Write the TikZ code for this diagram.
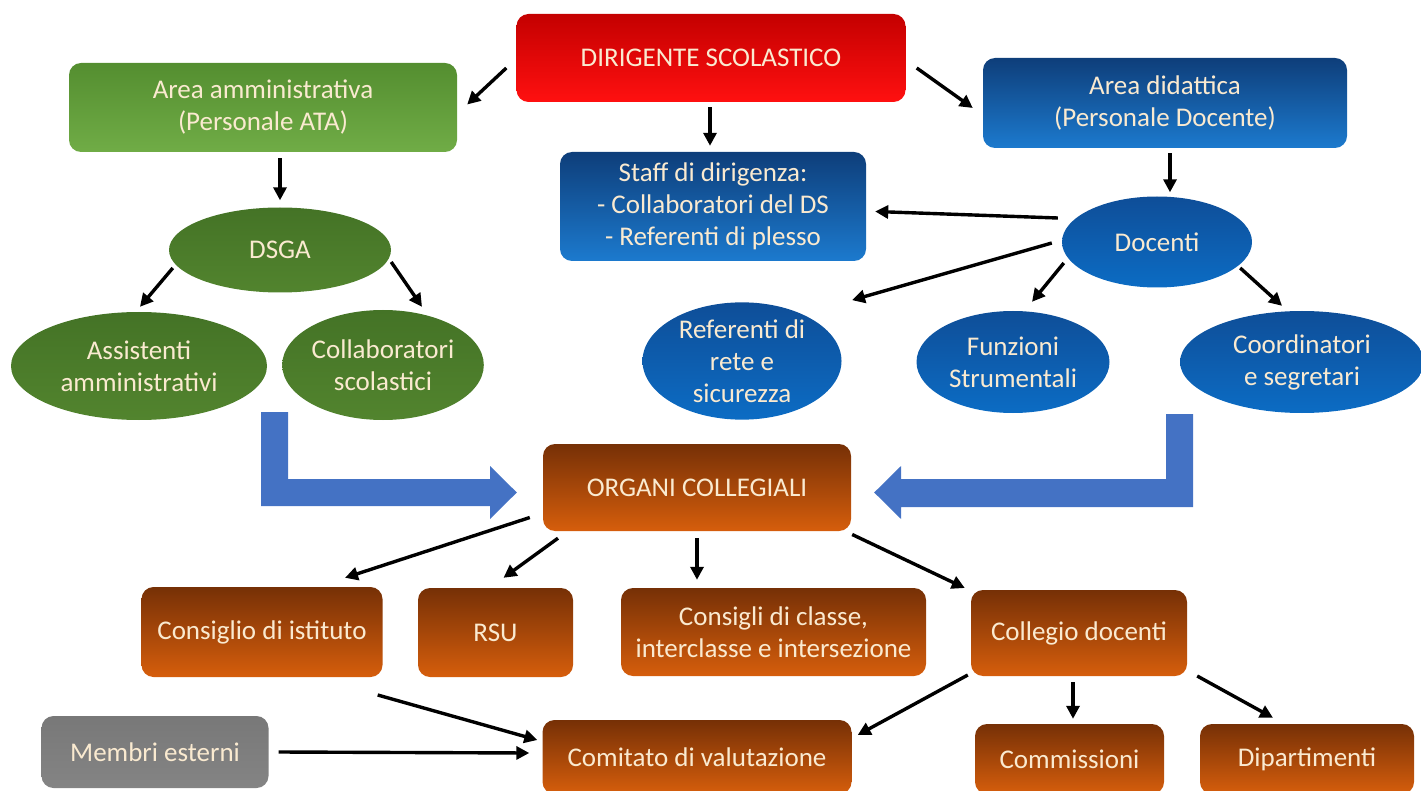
\documentclass[tikz,border=0pt]{standalone}
\usepackage{fontspec}
\setmainfont{Carlito}
\usetikzlibrary{arrows.meta,shapes.geometric,calc}
\definecolor{txt}{RGB}{250,234,208}
\definecolor{redT}{RGB}{196,0,0}
\definecolor{redB}{RGB}{255,16,16}
\definecolor{grnT}{RGB}{84,142,48}
\definecolor{grnB}{RGB}{112,172,70}
\definecolor{dgrT}{RGB}{68,115,38}
\definecolor{dgrB}{RGB}{82,132,46}
\definecolor{bluT}{RGB}{14,62,122}
\definecolor{bluB}{RGB}{28,122,206}
\definecolor{beT}{RGB}{14,78,152}
\definecolor{beB}{RGB}{12,108,196}
\definecolor{brnT}{RGB}{118,48,6}
\definecolor{brnB}{RGB}{214,94,12}
\definecolor{gryT}{RGB}{120,120,120}
\definecolor{gryB}{RGB}{132,132,132}
\definecolor{bigblue}{RGB}{68,114,196}
\tikzset{
  lbl/.style={text=txt, font=\fontsize{27}{32}\selectfont, align=center, inner sep=0pt},
  rbox/.style={lbl, shape=rectangle, rounded corners=12pt, minimum width=#1},
  ell/.style={lbl, shape=ellipse, minimum width=#1},
  redbox/.style={top color=redT, bottom color=redB},
  grnbox/.style={top color=grnT, bottom color=grnB},
  dgr/.style={top color=dgrT, bottom color=dgrB},
  blubox/.style={top color=bluT, bottom color=bluB},
  blu/.style={top color=beT, bottom color=beB},
  brn/.style={top color=brnT, bottom color=brnB},
  gry/.style={top color=gryT, bottom color=gryB},
  arr/.style={line width=3.4pt, -{Triangle[length=13pt,width=13pt]}},
  bigarrow/.style={fill=bigblue, draw=none}
}
\begin{document}
\begin{tikzpicture}[x=1pt,y=-1pt]
\useasboundingbox (0,0) rectangle (1421,791);
% top level
\node[rbox=389pt, minimum height=88pt, redbox] (ds) at (711,58) {DIRIGENTE SCOLASTICO};
\node[rbox=388pt, minimum height=89pt, grnbox] (aa) at (263,107.5) {Area amministrativa\\(Personale ATA)};
\node[rbox=364pt, minimum height=90pt, blubox] (ad) at (1165,103) {Area didattica\\(Personale Docente)};
\node[rbox=306pt, minimum height=109pt, blubox] (staff) at (713,206.5) {Staff di dirigenza:\\- Collaboratori del DS\\- Referenti di plesso};
% ellipses
\node[ell=190pt, minimum height=91pt, blu] (doc) at (1157,242) {Docenti};
\node[ell=222pt, minimum height=85pt, dgr] (dsga) at (280,250) {DSGA};
\node[ell=256pt, minimum height=108pt, dgr] (ass) at (139,366) {Assistenti\\amministrativi};
\node[ell=190pt, minimum height=110pt, dgr] (col) at (383,365) {Collaboratori\\scolastici};
\node[ell=199pt, minimum height=104pt, blu] (ref) at (742,361) {Referenti di\\rete e\\sicurezza};
\node[ell=193pt, minimum height=102pt, blu] (fun) at (1013,362) {Funzioni\\Strumentali};
\node[ell=244pt, minimum height=102pt, blu] (coo) at (1302,362) {Coordinatori\\e segretari};
% organi
\node[rbox=308pt, minimum height=87pt, brn] (org) at (697,487.5) {ORGANI COLLEGIALI};
\node[rbox=241pt, minimum height=90pt, brn] (cdi) at (262,632) {Consiglio di istituto};
\node[rbox=155pt, minimum height=89pt, brn] (rsu) at (495.5,632.5) {RSU};
\node[rbox=305pt, minimum height=88pt, brn] (ccl) at (773.5,632) {Consigli di classe,\\interclasse e intersezione};
\node[rbox=216pt, minimum height=86pt, brn] (cdo) at (1079,633) {Collegio docenti};
\node[rbox=227pt, minimum height=72pt, gry] (mem) at (155,752) {Membri esterni};
\node[rbox=309pt, minimum height=74pt, brn] (cva) at (697,757) {Comitato di valutazione};
\node[rbox=189pt, minimum height=70pt, brn] (com) at (1069.5,759) {Commissioni};
\node[rbox=214pt, minimum height=70pt, brn] (dip) at (1307,759) {Dipartimenti};
% big arrows
\coordinate (ltip) at ($(org.west)+(-26,5)$);
\coordinate (rtip) at ($(org.east)+(23,5)$);
\fill[bigarrow] (261,412) -- (288,412) -- (288,479) -- (490,479) -- (490,466) -- (ltip) -- (490,519) -- (490,506) -- (261,506) -- cycle;
\fill[bigarrow] (1193,414) -- (1166,414) -- (1166,479) -- (901,479) -- (901,466) -- (rtip) -- (901,519) -- (901,507) -- (1193,507) -- cycle;
% black arrows
\draw[arr] ($(ds.west)+(-10,10)$) -- ($(aa.east)+(10,-3)$);
\draw[arr] ($(ds.east)+(11,10)$) -- ($(ad.west)+(-10,5)$);
\draw[arr] ($(ds.south)+(-1,5)$) -- ($(staff.north)+(-3,-6)$);
\draw[arr] ($(aa.south)+(17,6)$) -- ($(dsga.north)+(0,-7)$);
\draw[arr] ($(dsga.west)+(4,18)$) -- ($(ass.north)+(1,-5)$);
\draw[arr] ($(dsga.east)+(0,12)$) -- ($(col.north)+(39,-3)$);
\draw[arr] ($(ad.south)+(5,5)$) -- ($(doc.north)+(13,-4)$);
\draw[arr] ($(doc.west)+(-4,-24)$) -- ($(staff.east)+(9,5)$);
\draw[arr] ($(doc.west)+(-10,1)$) -- ($(ref.north)+(110,-2)$);
\draw[arr] ($(doc.west)+(2,21)$) -- ($(fun.north)+(19,-9)$);
\draw[arr] ($(doc.east)+(-12,26)$) -- ($(coo.north)+(-20,-5)$);
\draw[arr] ($(org.west)+(-13,30)$) -- ($(cdi.north)+(83,-9)$);
\draw[arr] ($(org.south)+(-139,7)$) -- ($(rsu.north)+(8,-10)$);
\draw[arr] ($(org.south)+(0,7)$) -- ($(ccl.north)+(-76.5,-8)$);
\draw[arr] ($(org.east)+(1,47)$) -- ($(cdo.west)+(-6,-45)$);
\draw[arr] ($(cdi.east)+(-5,63)$) -- ($(cva.west)+(-5,-17)$);
\draw[arr] ($(mem.east)+(10,0)$) -- ($(cva.west)+(-13,-4)$);
\draw[arr] ($(cdo.west)+(-3,42)$) -- ($(cva.east)+(6,-22)$);
\draw[arr] ($(cdo.south)+(-6,6)$) -- ($(com.north)+(3.5,-5)$);
\draw[arr] ($(cdo.east)+(10,43)$) -- ($(dip.north)+(-34,-6)$);
\end{tikzpicture}
\end{document}
